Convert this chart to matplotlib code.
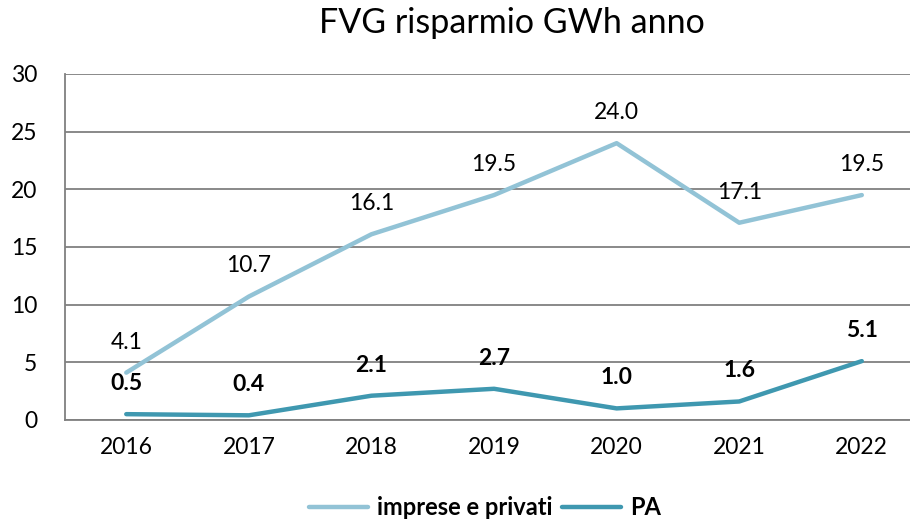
import matplotlib.pyplot as plt

## Data ##
anni = ["2016", "2017", "2018", "2019", "2020", "2021", "2022"]
imprese_privati = [4.1, 10.7, 16.1, 19.5, 24.0, 17.1, 19.5]
pa = [0.5, 0.4, 2.1, 2.7, 1.0, 1.6, 5.1]

col_imprese = "#92C3D6"
col_pa = "#3F98B0"

plt.rcParams["font.family"] = ["Lato", "DejaVu Sans"]

fig = plt.figure(figsize=(9.1, 5.21), dpi=100)
ax = fig.add_axes([0.0714, 0.194, 0.943, 0.664])

x = range(len(anni))
ax.plot(x, imprese_privati, color=col_imprese, lw=3.2, solid_capstyle="round",
        label="imprese e privati")
ax.plot(x, pa, color=col_pa, lw=3.2, solid_capstyle="round", label="PA")

# data labels
for i, v in enumerate(imprese_privati):
    ax.annotate(f"{v:.1f}", (i, v), xytext=(0, 22), textcoords="offset points",
                ha="center", va="center", fontsize=16.5)
for i, v in enumerate(pa):
    ax.annotate(f"{v:.1f}", (i, v), xytext=(0, 22), textcoords="offset points",
                ha="center", va="center", fontsize=16.5, fontweight="bold")

ax.set_xlim(-0.5, len(anni) - 0.5)
ax.set_ylim(0, 30)
ax.set_yticks(range(0, 31, 5))
ax.set_xticks(list(x))
ax.set_xticklabels(anni)
ax.tick_params(axis="both", length=0, labelsize=16.5, colors="black")
ax.tick_params(axis="x", pad=12)
ax.tick_params(axis="y", pad=20)
ax.grid(axis="y", color="#808080", lw=1.3)
ax.set_axisbelow(True)
for s in ["top", "right"]:
    ax.spines[s].set_visible(False)
for s in ["left", "bottom"]:
    ax.spines[s].set_color("#808080")
    ax.spines[s].set_linewidth(1.3)

fig.text(0.562, 0.955, "FVG risparmio GWh anno", ha="center", va="center", fontsize=24.5)

leg = fig.legend(loc="center", bbox_to_anchor=(0.533, 0.025), ncol=2, frameon=False,
                 prop={"size": 17, "weight": "bold"}, handlelength=2.5,
                 columnspacing=0.4, handletextpad=0.4)

fig.savefig("out.png", dpi=100)
